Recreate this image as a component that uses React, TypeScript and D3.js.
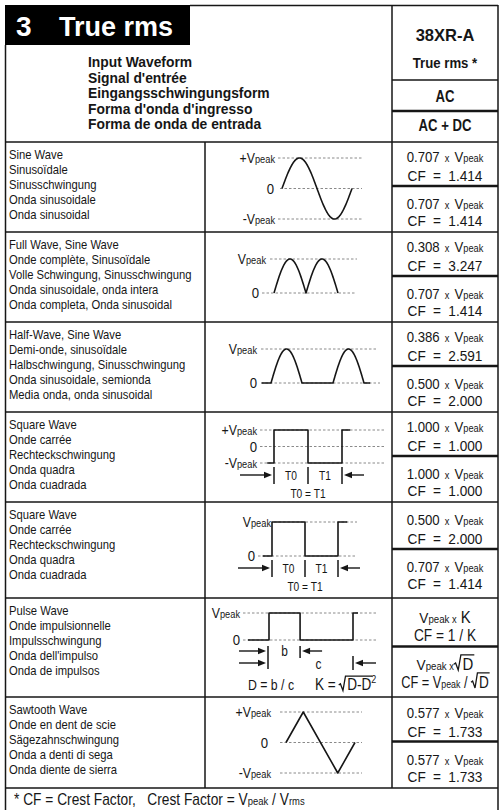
import React, { useRef, useEffect } from 'react'
import * as d3 from 'd3'

// ---------- data ----------
const titleNumber = '3'
const titleText = 'True rms'
const headerLines = [
  'Input Waveform',
  "Signal d'entrée",
  'Eingangsschwingungsform',
  "Forma d'onda d'ingresso",
  'Forma de onda de entrada',
]
const meterName = '38XR-A'
const meterMode = 'True rms *'
const modes = ['AC', 'AC + DC']

const waveNames: string[][] = [
  ['Sine Wave', 'Sinusoïdale', 'Sinusschwingung', 'Onda sinusoidale', 'Onda sinusoidal'],
  ['Full Wave, Sine Wave', 'Onde complète, Sinusoïdale', 'Volle Schwingung, Sinusschwingung', 'Onda sinusoidale, onda intera', 'Onda completa, Onda sinusoidal'],
  ['Half-Wave, Sine Wave', 'Demi-onde, sinusoïdale', 'Halbschwingung, Sinusschwingung', 'Onda sinusoidale, semionda', 'Media onda, onda sinusoidal'],
  ['Square Wave', 'Onde carrée', 'Rechteckschwingung', 'Onda quadra', 'Onda cuadrada'],
  ['Square Wave', 'Onde carrée', 'Rechteckschwingung', 'Onda quadra', 'Onda cuadrada'],
  ['Pulse Wave', 'Onde impulsionnelle', 'Impulsschwingung', "Onda dell'impulso", 'Onda de impulsos'],
  ['Sawtooth Wave', 'Onde en dent de scie', 'Sägezahnschwingung', 'Onda a denti di sega', 'Onda diente de sierra'],
]

// rms factor (x Vpeak) and crest factor, AC and AC+DC
const acFactor = ['0.707', '0.308', '0.386', '1.000', '0.500', 'K', '0.577']
const acCrest = ['1.414', '3.247', '2.591', '1.000', '2.000', '1 / K', '1.733']
const acdcFactor = ['0.707', '0.707', '0.500', '1.000', '0.707', '√D', '0.577']
const acdcCrest = ['1.414', '1.414', '2.000', '1.000', '1.414', 'Vpeak / √D', '1.733']

// waveform shapes as [phase, level]
const sineShape = d3.range(0, 101).map((i) => [i / 100, Math.sin((2 * Math.PI * i) / 100)])
const fullShape = d3.range(0, 101).map((i) => [i / 100, Math.abs(Math.sin((2 * Math.PI * i) / 100))])
const halfShape = d3.range(-30, 321).map((i) => [i / 200, Math.max(0, Math.sin((2 * Math.PI * i) / 200))])
const squareShape = [[-0.1, -1], [0, -1], [0, 1], [0.5, 1], [0.5, -1], [1, -1], [1, 1], [1.12, 1]]
const squarePosShape = [[-0.14, 0], [0, 0], [0, 1], [0.5, 1], [0.5, 0], [1, 0], [1, 1], [1.14, 1]]
const pulseDuty = 0.37
const pulseShape = [[-0.25, 0], [0, 0], [0, 1], [pulseDuty, 1], [pulseDuty, 0], [1, 0], [1, 1], [1.06, 1]]
const triangleShape = [[0, 0], [0.25, 1], [0.75, -1], [1, 0]]
const shapes = [sineShape, fullShape, halfShape, squareShape, squarePosShape, pulseShape, triangleShape]

// ---------- layout ----------
const W = 500
const H = 810
const SANS = "'Liberation Sans', Arial, Helvetica, sans-serif"
const INK = '#161616'
const colX = [5, 205, 392, 498]
const headTop = 5
const headBottom = 142
const rowHeights = [90, 90, 90, 90, 96, 99, 91]

// per row: phase range in px, level domain -> y offsets from row top, label right edges, dash extents
const waveGeom = [
  { px: [282, 352], lv: [-1, 1], ly: [77, 16], levels: [1, 0, -1], labelR: [275, 274, 275], dash: [[278, 362], [280, 362], [278, 362]] },
  { px: [274, 338], lv: [0, 1], ly: [61, 27], levels: [1, 0], labelR: [266, 259], dash: [[270, 357], [262, 355]] },
  { px: [271, 333], lv: [0, 1], ly: [61, 27], levels: [1, 0], labelR: [257, 257], dash: [[261, 378], [261, 380]] },
  { px: [274, 342], lv: [-1, 1], ly: [51, 18], levels: [1, 0, -1], labelR: [257, 257, 257], dash: [[260, 385], [260, 385], [260, 385]] },
  { px: [272, 338], lv: [0, 1], ly: [54, 20], levels: [1, 0], labelR: [271, 255], dash: [[274, 357], [258, 357]] },
  { px: [269, 353], lv: [0, 1], ly: [42, 15], levels: [1, 0], labelR: [240, 240], dash: [[243, 378], [243, 378]] },
  { px: [286, 355], lv: [-1, 1], ly: [76, 15], levels: [1, 0, -1], labelR: [271, 268, 271], dash: [[280, 362], [280, 362], [280, 362]] },
]

type Part = { t: string; fs: number; bold?: boolean; dy?: number; dx?: number; rad?: boolean }
type G = d3.Selection<SVGGElement, unknown, null, undefined>

// text squeezed horizontally by sx to mimic the condensed face of the original
function rich(g: G, x: number, y: number, parts: Part[], anchor = 'start', sx = 0.85) {
  const holder = g.append('g').attr('transform', `translate(${x},${y}) scale(${sx},1)`)
  const text = holder
    .append('text')
    .attr('x', 0)
    .attr('y', 0)
    .attr('text-anchor', anchor)
    .attr('font-family', SANS)
    .attr('fill', INK)
    .style('white-space', 'pre')
  parts.forEach((p) => {
    const ts = text.append('tspan').attr('font-size', p.fs).text(p.t)
    if (p.bold) ts.attr('font-weight', 'bold')
    if (p.dy) ts.attr('dy', p.dy)
    if (p.dx) ts.attr('dx', p.dx)
    if (p.rad) ts.classed('rad', true)
  })
  // radical signs drawn around marked parts
  text.selectAll<SVGTSpanElement, unknown>('tspan.rad').each(function () {
    const n = this.getNumberOfChars()
    if (!n) return
    const s = this.getStartPositionOfChar(0).x
    const e = this.getEndPositionOfChar(n - 1).x
    const fs = +(this.getAttribute('font-size') || 14)
    const cap = fs * 0.74
    const top = -cap - 2
    holder
      .append('path')
      .attr('d', `M${s - 10},${-cap * 0.42} L${s - 8},${-cap * 0.52} L${s - 5},${0.5} L${s - 2},${top} L${e + 1},${top}`)
      .attr('fill', 'none')
      .attr('stroke', INK)
      .attr('stroke-width', 1.3)
      .attr('vector-effect', 'non-scaling-stroke')
  })
  return text
}

const vpeak = (big: number, small: number, prefix = ''): Part[] => [
  { t: prefix + 'V', fs: big },
  { t: 'peak', fs: small },
]

function arrow(g: G, x1: number, x2: number, y: number) {
  const dir = Math.sign(x2 - x1)
  g.append('line')
    .attr('x1', x1).attr('x2', x2 - dir * 6).attr('y1', y).attr('y2', y)
    .attr('stroke', INK).attr('stroke-width', 1.4)
  g.append('path')
    .attr('d', `M${x2},${y} L${x2 - dir * 8},${y - 3.2} L${x2 - dir * 8},${y + 3.2} Z`)
    .attr('fill', INK)
}

function vtick(g: G, x: number, y1: number, y2: number) {
  g.append('line').attr('x1', x).attr('x2', x).attr('y1', y1).attr('y2', y2).attr('stroke', INK).attr('stroke-width', 1.5)
}

function hline(g: G, x1: number, x2: number, y: number, w = 1.5) {
  g.append('line').attr('x1', x1).attr('x2', x2).attr('y1', y).attr('y2', y).attr('stroke', INK).attr('stroke-width', w)
}

function vline(g: G, x: number, y1: number, y2: number, w = 1.5) {
  g.append('line').attr('x1', x).attr('x2', x).attr('y1', y1).attr('y2', y2).attr('stroke', INK).attr('stroke-width', w)
}

function draw(svg: d3.Selection<SVGSVGElement, unknown, null, undefined>) {
  const g = svg.append('g') as unknown as G

  const cum = [0, ...d3.cumsum(rowHeights)]
  const rowY = d3.scaleLinear().domain([0, cum[cum.length - 1]]).range([headBottom, headBottom + cum[cum.length - 1]])
  const tops = cum.slice(0, -1).map((c) => rowY(c))
  const bottoms = cum.slice(1).map((c) => rowY(c))
  const tableBottom = bottoms[bottoms.length - 1]

  // title block
  g.append('rect').attr('x', colX[0]).attr('y', headTop).attr('width', 185).attr('height', 40).attr('fill', '#000')
  rich(g, 16, 36, [{ t: titleNumber, fs: 28, bold: true }], 'start', 1).attr('fill', '#fff')
  rich(g, 59, 36, [{ t: titleText, fs: 27, bold: true }], 'start', 1).attr('fill', '#fff')

  // frame
  hline(g, 190, colX[3], headTop + 0.5)
  vline(g, colX[0] + 0.5, 45, H + 5)
  vline(g, colX[3], headTop, H + 5)
  vline(g, colX[2], headTop, tableBottom)
  vline(g, colX[1], headBottom, tableBottom)
  hline(g, colX[0], colX[3], headBottom)
  hline(g, colX[2], colX[3], 80, 1.3)
  hline(g, colX[2], colX[3], 111, 2.6)

  // header texts
  headerLines.forEach((t, i) => rich(g, 88, 67 + i * 15.6, [{ t, fs: 14, bold: true }], 'start', 0.99))
  const cx = (colX[2] + colX[3]) / 2
  rich(g, cx, 41, [{ t: meterName, fs: 16.5, bold: true }], 'middle', 1)
  rich(g, cx, 68, [{ t: meterMode, fs: 15, bold: true }], 'middle', 0.88)
  rich(g, cx, 102, [{ t: modes[0], fs: 16, bold: true }], 'middle', 0.82)
  rich(g, cx, 131, [{ t: modes[1], fs: 16, bold: true }], 'middle', 0.82)

  // rows
  waveNames.forEach((names, r) => {
    const top = tops[r]
    const bot = bottoms[r]
    hline(g, colX[0], colX[3], bot)

    names.forEach((t, i) => rich(g, 9, top + 16.5 + i * 15, [{ t, fs: 13.4 }], 'start', 0.84))

    // values
    const mid = (top + bot) / 2
    hline(g, colX[2], colX[3], mid - 1, 2.6)
    const cells = [
      [acFactor[r], acCrest[r], mid - 30, mid - 12],
      [acdcFactor[r], acdcCrest[r], mid + 17, mid + 33],
    ] as const
    cells.forEach(([f, c, y1, y2]) => {
      if (f === 'K' || f === '√D') {
        const tail: Part[] = f === 'K' ? [{ t: ' K', fs: 17 }] : [{ t: 'D', fs: 17, dx: 10, rad: true }]
        rich(g, cx, y1 + 5, [...vpeak(15.5, 11), { t: ' x', fs: 10.5 }, ...tail], 'middle', 0.88)
        const crest: Part[] =
          c === '1 / K'
            ? [{ t: 'CF = 1 / K', fs: 16 }]
            : [{ t: 'CF = ', fs: 16 }, ...vpeak(16, 11), { t: ' / ', fs: 16 }, { t: 'D', fs: 17, dx: 10, rad: true }]
        rich(g, cx, y2 + 5 + (c === '1 / K' ? 0 : 2), crest, 'middle', c === '1 / K' ? 0.86 : 0.8)
      } else {
        rich(g, cx, y1 + 5, [{ t: f, fs: 15 }, { t: '  x  ', fs: 10.5 }, ...vpeak(15, 10.5)], 'middle', 0.88)
        rich(g, cx, y2 + 6, [{ t: `CF = ${c}`, fs: 15.5 }], 'middle', 0.88).style('word-spacing', '4px')
      }
    })

    // waveform
    const geo = waveGeom[r]
    const x = d3.scaleLinear().domain([0, 1]).range(geo.px)
    const y = d3.scaleLinear().domain(geo.lv).range([top + geo.ly[0], top + geo.ly[1]])
    geo.levels.forEach((lv, i) => {
      g.append('line')
        .attr('x1', geo.dash[i][0]).attr('x2', geo.dash[i][1])
        .attr('y1', y(lv)).attr('y2', y(lv))
        .attr('stroke', '#8a8a8a').attr('stroke-width', 1).attr('stroke-dasharray', '2.5,2')
      const parts: Part[] =
        lv === 0 ? [{ t: '0', fs: 15 }] : vpeak(14, 10.5, geo.lv[0] < 0 ? (lv > 0 ? '+' : '-') : '')
      rich(g, geo.labelR[i], y(lv) + 5, parts, 'end', 0.88)
    })
    const line = d3
      .line<number[]>()
      .x((d) => x(d[0]))
      .y((d) => y(d[1]))
    g.append('path')
      .attr('d', line(shapes[r] as number[][]))
      .attr('fill', 'none')
      .attr('stroke', INK)
      .attr('stroke-width', 1.6)
      .attr('stroke-linejoin', 'round')

    // period annotations
    if (r === 3 || r === 4) {
      const ay = r === 3 ? top + 63 : top + 66
      arrow(g, x(0) - 34, x(0) - 2, ay)
      arrow(g, x(1) + 22, x(1) + 2, ay)
      ;[0, 0.5, 1].forEach((p) => vtick(g, x(p), ay - 8, ay + 9))
      rich(g, x(0.25), ay + 5, [{ t: 'T0', fs: 12 }], 'middle', 0.85)
      rich(g, x(0.75), ay + 5, [{ t: 'T1', fs: 12 }], 'middle', 0.85)
      rich(g, x(0.5), ay + 23, [{ t: 'T0 = T1', fs: 12 }], 'middle', 0.85)
    }
    if (r === 5) {
      const by = top + 53
      const cy = top + 65
      arrow(g, x(0) - 30, x(0) - 3, by)
      arrow(g, x(0) - 30, x(0) - 3, cy)
      vtick(g, x(0) - 1, by - 5, cy + 6)
      vtick(g, x(pulseDuty), by - 5, by + 7)
      arrow(g, x(pulseDuty) + 22, x(pulseDuty) + 2, by)
      vtick(g, x(1), cy - 7, cy + 7)
      arrow(g, x(1) + 23, x(1) + 2, cy)
      rich(g, x(pulseDuty / 2), by + 5, [{ t: 'b', fs: 14 }], 'middle', 0.85)
      rich(g, x((pulseDuty + 1) / 2) - 8, cy + 6, [{ t: 'c', fs: 14 }], 'middle', 0.85)
      rich(g, 271, top + 92, [{ t: 'D = b / c', fs: 15 }], 'middle', 0.82)
      rich(g, 315, top + 92, [{ t: 'K = ', fs: 16 }, { t: 'D-D', fs: 16, dx: 9, rad: true }, { t: '2', fs: 10.5, dy: -7 }], 'start', 0.85)
    }
  })

  // footnote
  rich(g, 14, tableBottom + 17, [
    { t: '* CF = Crest Factor,   Crest Factor = ', fs: 16 },
    ...vpeak(16, 11),
    { t: ' / V', fs: 16 },
    { t: 'rms', fs: 11 },
  ], 'start', 0.86)
}

export default function App() {
  const ref = useRef<SVGSVGElement>(null)
  useEffect(() => {
    const svg = d3.select(ref.current!)
    svg.selectAll('*').remove()
    draw(svg)
  }, [])
  return (
    <svg
      ref={ref}
      width={W}
      height={H}
      viewBox={`0 0 ${W} ${H}`}
      style={{ position: 'absolute', left: 0, top: 0, background: '#fff' }}
    />
  )
}
